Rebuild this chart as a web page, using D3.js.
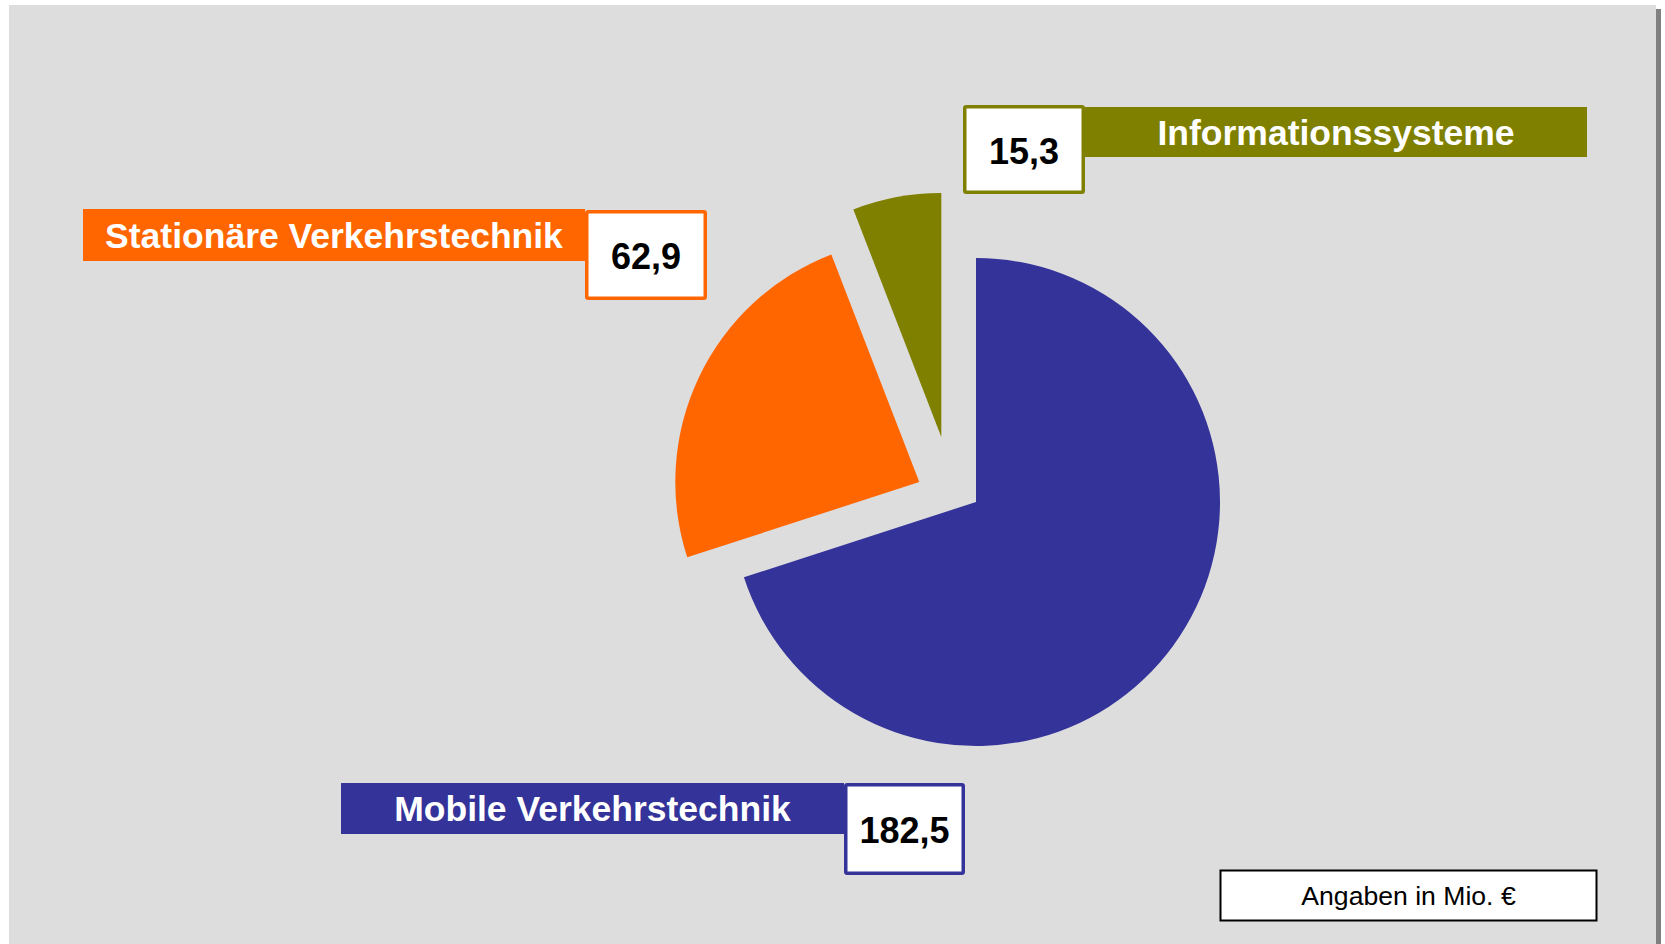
<!DOCTYPE html>
<html>
<head>
<meta charset="utf-8">
<script src="https://cdn.jsdelivr.net/npm/d3@7"></script>
<style>
  html, body { margin: 0; padding: 0; background: #fff; }
  svg { display: block; font-family: "Liberation Sans", Arial, sans-serif; }
</style>
</head>
<body>
<svg id="chart" width="1665" height="944"></svg>
<script>
// data
const categories = ["Mobile Verkehrstechnik", "Stationäre Verkehrstechnik", "Informationssysteme"];
const values = [182.5, 62.9, 15.3];
const colors = ["#333399", "#ff6600", "#808000"];
const unitNote = "Angaben in Mio. €";

// layout
const W = 1665, H = 944;
const cx = 976, cy = 502, radius = 244;
// exploded slices, shift in px
const explode = [[0, 0], [-56.7, -20], [-34.7, -65]];
// callout: coloured name bar + white value box
const callouts = [
  { bar: [341, 783, 503, 51], box: [844, 783, 121, 92] },
  { bar: [83, 209, 502, 52], box: [585, 210, 122, 90] },
  { bar: [1085, 107, 502, 50], box: [963, 105, 122, 89] }
];

const de = d3.formatLocale({ decimal: ",", thousands: ".", grouping: [3], currency: ["", " €"] });
const fmt = de.format(".1f");

const svg = d3.select("#chart");

// background panel + right shadow line
svg.append("rect").attr("x", 9).attr("y", 5).attr("width", 1647).attr("height", H - 5).attr("fill", "#dddddd");
svg.append("rect").attr("x", 1656).attr("y", 9).attr("width", 5).attr("height", H - 9).attr("fill", "#808080");

const pie = d3.pie().sort(null).startAngle(0).endAngle(2 * Math.PI);
const arc = d3.arc().innerRadius(0).outerRadius(radius);

const slices = pie(values).map((d, i) => ({ ...d, i }));

svg.append("g")
  .attr("transform", `translate(${cx},${cy})`)
  .selectAll("path")
  .data(slices)
  .join("path")
  .attr("d", arc)
  .attr("transform", d => `translate(${explode[d.i][0]},${explode[d.i][1]})`)
  .attr("fill", d => colors[d.i]);

// callouts
const labels = svg.append("g").selectAll("g")
  .data(slices)
  .join("g");

labels.append("rect")
  .attr("x", d => callouts[d.i].bar[0])
  .attr("y", d => callouts[d.i].bar[1])
  .attr("width", d => callouts[d.i].bar[2])
  .attr("height", d => callouts[d.i].bar[3])
  .attr("fill", d => colors[d.i]);

labels.append("text")
  .attr("x", d => callouts[d.i].bar[0] + callouts[d.i].bar[2] / 2)
  .attr("y", d => callouts[d.i].bar[1] + callouts[d.i].bar[3] / 2)
  .attr("dy", "0.36em")
  .attr("text-anchor", "middle")
  .attr("fill", "#fff")
  .attr("font-weight", "bold")
  .attr("font-size", 35.5)
  .text(d => categories[d.i]);

labels.append("rect")
  .attr("x", d => callouts[d.i].box[0] + 1.75)
  .attr("y", d => callouts[d.i].box[1] + 1.75)
  .attr("width", d => callouts[d.i].box[2] - 3.5)
  .attr("height", d => callouts[d.i].box[3] - 3.5)
  .attr("rx", 1.5)
  .attr("fill", "#fff")
  .attr("stroke", d => colors[d.i])
  .attr("stroke-width", 3.5);

labels.append("text")
  .attr("x", d => callouts[d.i].box[0] + callouts[d.i].box[2] / 2)
  .attr("y", d => callouts[d.i].box[1] + callouts[d.i].box[3] / 2)
  .attr("dy", "0.4em")
  .attr("text-anchor", "middle")
  .attr("fill", "#000")
  .attr("font-weight", "bold")
  .attr("font-size", 36)
  .text(d => fmt(values[d.i]));

// unit note
const note = svg.append("g");
note.append("rect")
  .attr("x", 1220.5).attr("y", 870.5).attr("width", 376).attr("height", 50)
  .attr("fill", "#fff").attr("stroke", "#000").attr("stroke-width", 2);
note.append("text")
  .attr("x", 1408.5).attr("y", 895.5).attr("dy", "0.36em")
  .attr("text-anchor", "middle")
  .attr("font-size", 26.6)
  .attr("fill", "#000")
  .text(unitNote);
</script>
</body>
</html>
